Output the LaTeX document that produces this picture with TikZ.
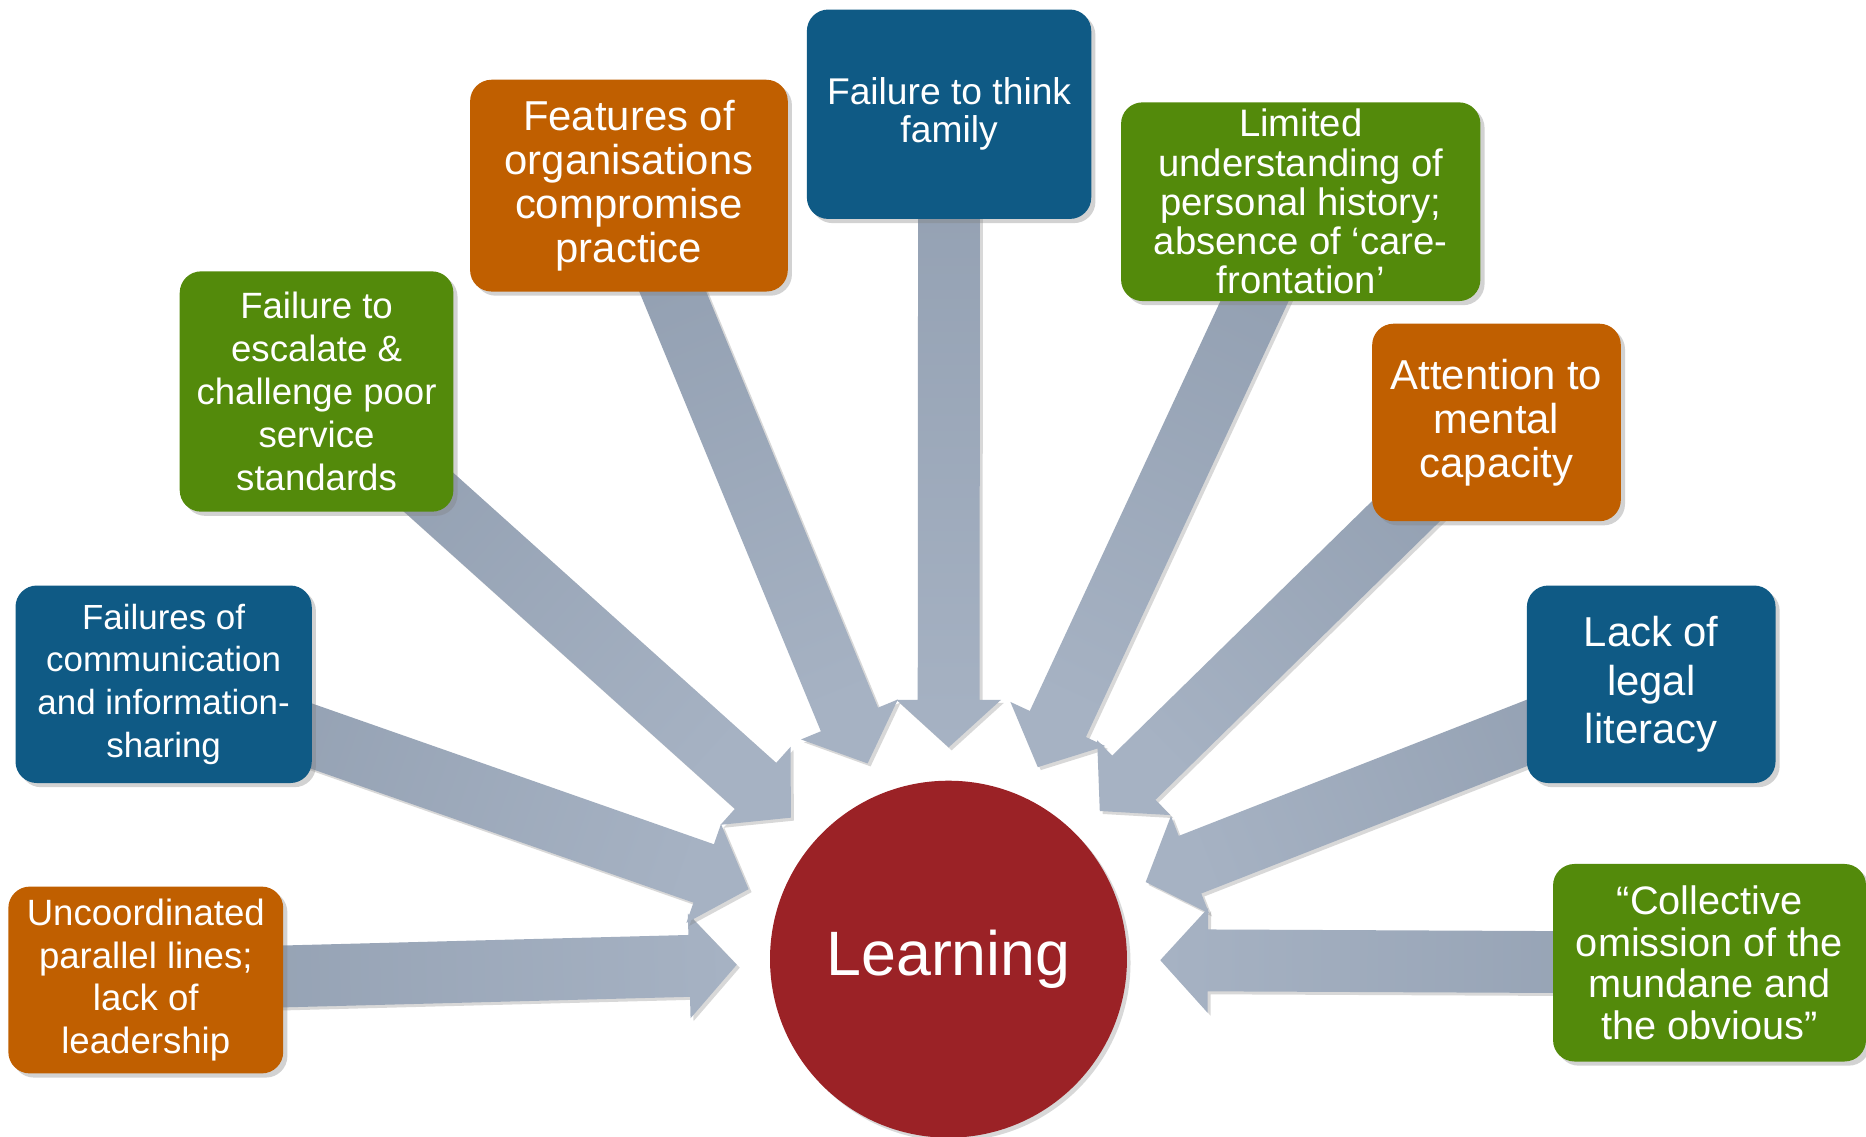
\documentclass[tikz,border=0pt]{standalone}
\usepackage{fontspec}
\setmainfont{Liberation Sans}
\usetikzlibrary{calc,backgrounds,shadows}

\definecolor{boxorange}{RGB}{192,95,0}
\definecolor{boxblue}{RGB}{15,90,133}
\definecolor{boxgreen}{RGB}{83,138,11}
\definecolor{learnred}{RGB}{155,34,38}
\definecolor{arrowdark}{RGB}{136,149,168}
\definecolor{arrowlight}{RGB}{166,178,195}
\definecolor{arrowend}{RGB}{146,159,177}

\tikzset{
  cause/.style={rounded corners=0.36cm, align=center, text=white, inner sep=1pt,
    drop shadow={opacity=0.35, shadow xshift=0.07cm, shadow yshift=-0.07cm}},
  orangecause/.style={cause, fill=boxorange},
  bluecause/.style={cause, fill=boxblue},
  greencause/.style={cause, fill=boxgreen},
  blockarrow/.style={top color=arrowend, middle color=arrowdark, bottom color=arrowlight,
    drop shadow={opacity=0.3, shadow xshift=0.05cm, shadow yshift=-0.05cm}}
}

\begin{document}
\begin{tikzpicture}[x=0.02cm, y=-0.02cm]
  \useasboundingbox (0,0) rectangle (1568,955);

  % centre
  \node (learn) [circle, minimum size=6cm, inner sep=0pt, fill=learnred, text=white,
    font=\fontsize{30}{36}\selectfont,
    drop shadow={opacity=0.3, shadow xshift=0.06cm, shadow yshift=-0.06cm}] at (797,806) {Learning};

  % causes, clockwise from lower left
  \node (uncoord) [orangecause, minimum width=4.62cm, minimum height=3.14cm,
    font=\fontsize{17.5}{20.5}\selectfont] at (122.5,823.5)
    {Uncoordinated\\parallel lines;\\lack of\\leadership};
  \node (comms) [bluecause, minimum width=4.98cm, minimum height=3.32cm,
    font=\fontsize{16.7}{20.5}\selectfont] at (137.5,575)
    {Failures of\\communication\\and information-\\sharing};
  \node (escal) [greencause, minimum width=4.6cm, minimum height=4.04cm,
    font=\fontsize{17.5}{20.5}\selectfont] at (266,329)
    {Failure to\\escalate \&\\challenge poor\\service\\standards};
  \node (feat) [orangecause, minimum width=5.34cm, minimum height=3.56cm,
    font=\fontsize{20}{21}\selectfont] at (528.5,156)
    {Features of\\organisations\\compromise\\practice};
  \node (family) [bluecause, minimum width=4.78cm, minimum height=3.52cm,
    font=\fontsize{17.8}{18.2}\selectfont] at (797.5,96)
    {Failure to think\\family};
  \node (limited) [greencause, minimum width=6.04cm, minimum height=3.34cm,
    font=\fontsize{18.3}{18.8}\selectfont] at (1093,169.5)
    {Limited\\understanding of\\personal history;\\absence of ‘care-\\frontation’};
  \node (attn) [orangecause, minimum width=4.18cm, minimum height=3.32cm,
    font=\fontsize{20}{21}\selectfont] at (1257.5,355)
    {Attention to\\mental\\capacity};
  \node (legal) [bluecause, minimum width=4.18cm, minimum height=3.32cm,
    font=\fontsize{20}{23.3}\selectfont] at (1387.5,575)
    {Lack of\\legal\\literacy};
  \node (omission) [greencause, minimum width=5.26cm, minimum height=3.32cm,
    font=\fontsize{19}{20}\selectfont] at (1436.5,809)
    {“Collective\\omission of the\\mundane and\\the obvious”};

  % block arrows into the centre
  \begin{scope}[on background layer]
    \fill[white] (0,0) rectangle (1568,955);
    \foreach \b in {uncoord,comms,escal,feat,family,limited,attn,legal,omission}{
      \pgfmathanglebetweenpoints{\pgfpointanchor{learn}{center}}{\pgfpointanchor{\b}{center}}
      \let\ang\pgfmathresult
      \pgfmathsetmacro\sang{\ang-90}
      \coordinate (\b-t) at ($(learn.center)!3.56cm!(\b.center)$);
      \coordinate (\b-h) at ($(learn.center)!4.36cm!(\b.center)$);
      \coordinate (\b-hl) at ($(\b-h)!0.88cm!90:(\b.center)$);
      \coordinate (\b-hr) at ($(\b-h)!0.88cm!-90:(\b.center)$);
      \coordinate (\b-sl) at ($(\b-h)!0.52cm!90:(\b.center)$);
      \coordinate (\b-sr) at ($(\b-h)!0.52cm!-90:(\b.center)$);
      \coordinate (\b-el) at ($(\b.center)!0.52cm!-90:(learn.center)$);
      \coordinate (\b-er) at ($(\b.center)!0.52cm!90:(learn.center)$);
      \shade[blockarrow, shading angle=\sang] (\b-el) -- (\b-sl) -- (\b-hl) -- (\b-t)
        -- (\b-hr) -- (\b-sr) -- (\b-er) -- cycle;
    }
  \end{scope}
\end{tikzpicture}
\end{document}
